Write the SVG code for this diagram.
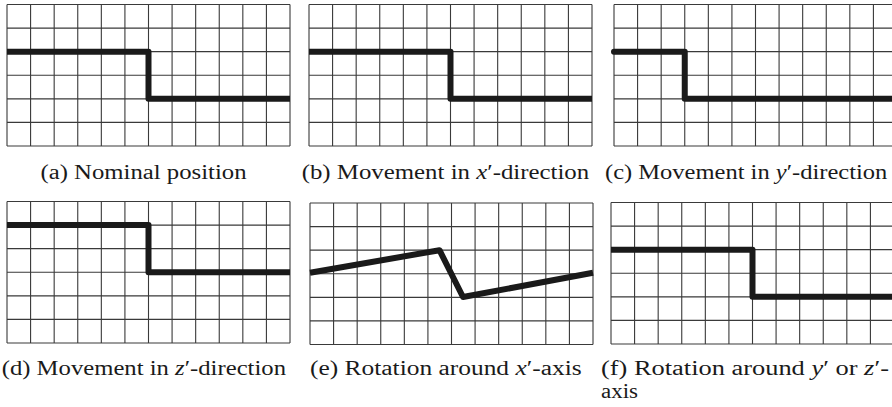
<svg xmlns="http://www.w3.org/2000/svg" xmlns:xlink="http://www.w3.org/1999/xlink" width="892" height="407" viewBox="0 0 892 407">
<style>
.grid{fill:none;stroke:#3a3a3a;stroke-width:1.1}
.bar{fill:none;stroke:#1a1a1a;stroke-width:6;stroke-linejoin:round;stroke-linecap:butt}
.cap{font-family:"Liberation Serif","Times New Roman",serif;font-size:20px;fill:#1a1a1a}
.m{font-style:italic}
</style>
<defs>
<path id="grid" class="grid" d="M0 0H283M0 23.58H283M0 47.17H283M0 70.75H283M0 94.33H283M0 117.92H283M0 141.5H283M0 0V141.5M23.58 0V141.5M47.17 0V141.5M70.75 0V141.5M94.33 0V141.5M117.92 0V141.5M141.5 0V141.5M165.08 0V141.5M188.67 0V141.5M212.25 0V141.5M235.83 0V141.5M259.42 0V141.5M283 0V141.5"/>
</defs>
<g id="panel-a">
<use xlink:href="#grid" href="#grid" x="7" y="4.5"/>
<text class="cap" x="40.5" y="178.5" textLength="206" lengthAdjust="spacingAndGlyphs">(a) Nominal position</text>
</g>
<g id="panel-b">
<use xlink:href="#grid" href="#grid" x="309" y="4.5"/>
<text class="cap" x="301.7" y="178.5" textLength="287.5" lengthAdjust="spacingAndGlyphs">(b) Movement in <tspan class="m">x</tspan>′-direction</text>
</g>
<g id="panel-c">
<use xlink:href="#grid" href="#grid" x="614" y="4.5"/>
<text class="cap" x="605" y="178.5" textLength="282.3" lengthAdjust="spacingAndGlyphs">(c) Movement in <tspan class="m">y</tspan>′-direction</text>
</g>
<g id="panel-d">
<use xlink:href="#grid" href="#grid" x="7" y="201.5"/>
<text class="cap" x="1.7" y="374.5" textLength="284.3" lengthAdjust="spacingAndGlyphs">(d) Movement in <tspan class="m">z</tspan>′-direction</text>
</g>
<g id="panel-e">
<use xlink:href="#grid" href="#grid" x="310" y="203"/>
<text class="cap" x="310" y="374.5" textLength="271.7" lengthAdjust="spacingAndGlyphs">(e) Rotation around <tspan class="m">x</tspan>′-axis</text>
</g>
<g id="panel-f">
<use xlink:href="#grid" href="#grid" x="611" y="202.5"/>
<text class="cap" x="601" y="374.5" textLength="288" lengthAdjust="spacingAndGlyphs">(f) Rotation around <tspan class="m">y</tspan>′ or <tspan class="m">z</tspan>′-</text>
<text class="cap" x="601" y="398" textLength="37" lengthAdjust="spacingAndGlyphs">axis</text>
</g>
<g id="connectors">
<path class="bar" d="M7 51.67H148.5V98.83H290"/>
<path class="bar" d="M309 51.67H450.5V98.83H592"/>
<path class="bar" d="M614 51.67H684.75V98.83H900" style="stroke-linecap:round"/>
<path class="bar" d="M7 225.08H148.5V272.25H290"/>
<path class="bar" d="M310 272.7L439.5 250.2L463 297L593 272.7"/>
<path class="bar" d="M611 249.67H752.5V296.83H900"/>
</g>
</svg>
